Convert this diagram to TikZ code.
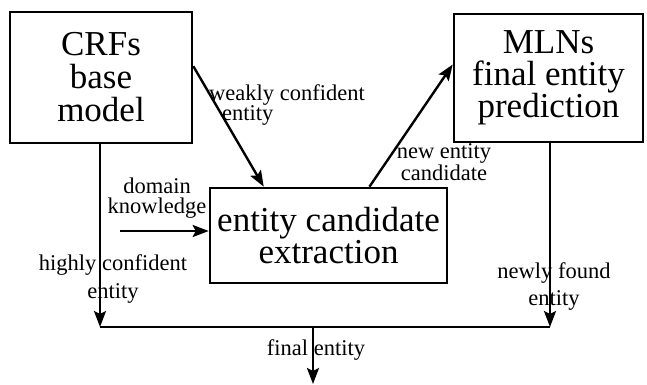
\documentclass[tikz,border=0pt]{standalone}
\usepackage{fontspec}
\setmainfont{Liberation Serif}
\newfontfamily\boxfont{Liberation Serif}
\usetikzlibrary{arrows.meta}
\begin{document}
\begin{tikzpicture}[x=1pt,y=-1pt,
  boxnode/.style={draw,line width=2.6pt,inner sep=0pt,align=center,
    font=\boxfont\fontsize{35}{33}\selectfont},
  lbl/.style={inner sep=0pt,font=\fontsize{22.5}{20}\selectfont},
  arr/.style={line width=2.4pt,-{Stealth[length=16pt,width=12pt,inset=3pt]}},
  conn/.style={line width=2.4pt}]
\useasboundingbox (0,0) rectangle (647,384);
\node[boxnode,minimum width=182pt,minimum height=131pt] (crf) at (101,77.5)
  {CRFs\\base\\model};
\node[boxnode,minimum width=189pt,minimum height=128pt,
  font=\boxfont\fontsize{35}{31.5}\selectfont] (mln) at (548.5,78)
  {MLNs\\final entity\\prediction};
\node[boxnode,minimum width=237pt,minimum height=95pt,
  font=\boxfont\fontsize{35}{32}\selectfont] (ext) at (328.5,235.5)
  {entity candidate\\extraction};
\coordinate (j1) at (100,327);
\coordinate (j2) at (550,327);
\coordinate (fin) at (313,327);
\coordinate (out) at (313,384);
\coordinate (dk) at (120,231);
\draw[arr] (crf.south -| j1) -- (j1);
\draw[arr] (mln.south -| j2) -- (j2);
\draw[conn] (j1) -- (j2);
\draw[arr] (fin) -- (out);
\draw[arr] (crf.7) -- (ext.143);
\draw[arr] (ext.50) -- (mln.172);
\draw[arr] (dk) -- (ext.west |- dk);
\node[lbl,align=left,anchor=base west] (l1) at (209,120)
  {weakly confident\\\hspace*{13pt}entity};
\node[lbl,align=center,anchor=base] (l3) at (444,180) {new entity\\candidate};
\node[lbl,align=center,anchor=base] (l5) at (157,213) {domain\\knowledge};
\node[lbl,align=center,anchor=base,
  font=\fontsize{22.5}{28}\selectfont] (l7) at (113,298) {highly confident\\entity};
\node[lbl,align=center,anchor=base,
  font=\fontsize{22.5}{27}\selectfont] (l9) at (554,305) {newly found\\entity};
\node[lbl,anchor=base] (l11) at (316,355) {final entity};
\end{tikzpicture}
\end{document}
